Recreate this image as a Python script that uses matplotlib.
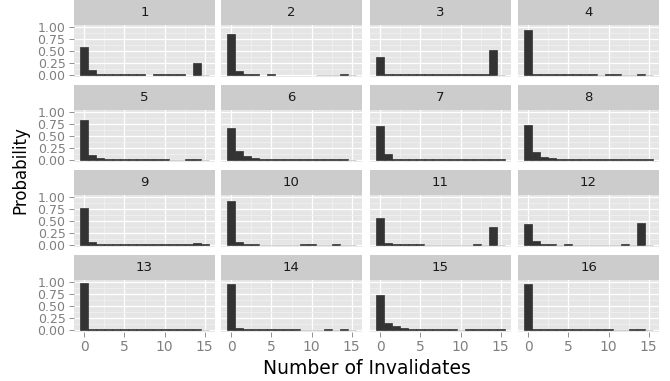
import numpy as np
import matplotlib
matplotlib.use('Agg')
import matplotlib.pyplot as plt
from matplotlib.ticker import FormatStrFormatter

# number of invalidates (bin centres) and probability per facet
invalidates = np.arange(16)

p1 = [0.59, 0.10, 0.005, 0.005, 0.005, 0.005, 0.005, 0.005, 0.0, 0.005, 0.005, 0.005, 0.005, 0.0, 0.25, 0.001]
p2 = [0.87, 0.08, 0.008, 0.008, 0.0, 0.008, 0.0, 0.0, 0.0, 0.0, 0.0, 0.001, 0.001, 0.001, 0.008, 0.001]
p3 = [0.37, 0.007, 0.007, 0.007, 0.007, 0.007, 0.007, 0.007, 0.007, 0.007, 0.007, 0.007, 0.007, 0.007, 0.53, 0.001]
p4 = [0.94, 0.005, 0.005, 0.005, 0.005, 0.005, 0.005, 0.005, 0.005, 0.001, 0.005, 0.005, 0.001, 0.001, 0.005, 0.001]
p5 = [0.83, 0.09, 0.03, 0.005, 0.005, 0.005, 0.005, 0.005, 0.005, 0.005, 0.005, 0.001, 0.001, 0.005, 0.005, 0.001]
p6 = [0.66, 0.18, 0.07, 0.03, 0.005, 0.005, 0.005, 0.005, 0.005, 0.005, 0.005, 0.005, 0.005, 0.005, 0.005, 0.001]
p7 = [0.72, 0.12, 0.008, 0.008, 0.008, 0.008, 0.008, 0.008, 0.02, 0.005, 0.005, 0.005, 0.005, 0.005, 0.005, 0.005]
p8 = [0.74, 0.16, 0.05, 0.03, 0.003, 0.003, 0.003, 0.003, 0.003, 0.003, 0.003, 0.003, 0.003, 0.003, 0.003, 0.003]
p9 = [0.78, 0.06, 0.02, 0.006, 0.006, 0.006, 0.006, 0.006, 0.006, 0.006, 0.006, 0.006, 0.006, 0.006, 0.025, 0.01]
p10 = [0.92, 0.06, 0.006, 0.006, 0.001, 0.001, 0.001, 0.001, 0.001, 0.006, 0.006, 0.001, 0.001, 0.006, 0.001, 0.001]
p11 = [0.57, 0.03, 0.008, 0.008, 0.008, 0.008, 0.001, 0.001, 0.001, 0.001, 0.001, 0.001, 0.008, 0.001, 0.37, 0.001]
p12 = [0.43, 0.08, 0.01, 0.01, 0.001, 0.01, 0.001, 0.001, 0.001, 0.001, 0.001, 0.001, 0.01, 0.001, 0.45, 0.001]
p13 = [0.98, 0.003, 0.003, 0.003, 0.003, 0.003, 0.003, 0.003, 0.003, 0.003, 0.003, 0.003, 0.003, 0.003, 0.003, 0.001]
p14 = [0.96, 0.035, 0.005, 0.005, 0.005, 0.005, 0.005, 0.005, 0.006, 0.001, 0.001, 0.001, 0.005, 0.001, 0.005, 0.001]
p15 = [0.74, 0.13, 0.077, 0.03, 0.015, 0.004, 0.004, 0.004, 0.004, 0.004, 0.001, 0.004, 0.004, 0.004, 0.004, 0.004]
p16 = [0.97, 0.003, 0.003, 0.003, 0.003, 0.003, 0.003, 0.003, 0.003, 0.003, 0.003, 0.001, 0.001, 0.003, 0.003, 0.001]

panels = [p1, p2, p3, p4, p5, p6, p7, p8, p9, p10, p11, p12, p13, p14, p15, p16]
facet_labels = [str(i) for i in range(1, 17)]
x_ticks = [0, 5, 10, 15]
y_ticks = [0, 0.25, 0.5, 0.75, 1.0]

W, H = 670, 381
fig = plt.figure(figsize=(W / 100, H / 100), dpi=100)
fig.patch.set_facecolor('white')

lefts = [74, 221, 370, 518]
tops = [25, 110, 195, 280]
pw, ph, sh = 141, 52, 25

for i, (vals, lab) in enumerate(zip(panels, facet_labels)):
    r, c = divmod(i, 4)
    x0 = lefts[c] / W
    y0 = 1 - (tops[r] + ph) / H
    ax = fig.add_axes([x0, y0, pw / W, ph / H])
    ax.set_facecolor('#E5E5E5')
    vals = np.array(vals)
    # tiny bars still show up as thin lines, like the original renderer
    edges = ['none' if v == 0 else ('#333333' if v >= 0.003 else '#BEBEBE') for v in vals]
    ax.bar(invalidates, vals, width=1.0, color='#333333', edgecolor=edges, linewidth=0.5)
    ax.set_xlim(-1.3, 16.3)
    ax.set_ylim(-0.05, 1.05)
    ax.set_xticks(x_ticks)
    ax.set_xticks([2.5, 7.5, 12.5], minor=True)
    ax.set_yticks(y_ticks)
    ax.set_yticks([0.125, 0.375, 0.625, 0.875], minor=True)
    ax.grid(which='major', color='white', linewidth=0.9)
    ax.grid(which='minor', color='#F2F2F2', linewidth=0.5)
    ax.set_axisbelow(True)
    for s in ax.spines.values():
        s.set_visible(False)
    ax.tick_params(which='minor', length=0)
    ax.tick_params(which='major', length=3.6, width=0.6, color='#7F7F7F',
                   labelcolor='#7F7F7F', pad=2.5)
    ax.tick_params(axis='y', labelsize=9)
    ax.tick_params(axis='x', labelsize=10)
    ax.yaxis.set_major_formatter(FormatStrFormatter('%.2f'))
    if c != 0:
        ax.tick_params(axis='y', length=0, labelleft=False)
    if r != 3:
        ax.tick_params(axis='x', length=0, labelbottom=False)

    st = fig.add_axes([x0, 1 - tops[r] / H, pw / W, sh / H])
    st.set_facecolor('#CCCCCC')
    st.set_xticks([])
    st.set_yticks([])
    for s in st.spines.values():
        s.set_visible(False)
    st.text(0.5, 0.5, lab, ha='center', va='center', fontsize=9.5,
            color='#1A1A1A', transform=st.transAxes)

fig.text(366.5 / W, 1 - 369 / H, 'Number of Invalidates', ha='center', va='center', fontsize=13.5)
fig.text(20 / W, 1 - 170 / H, 'Probability', ha='center', va='center', fontsize=12, rotation=90)

fig.savefig('out.png', dpi=100)
